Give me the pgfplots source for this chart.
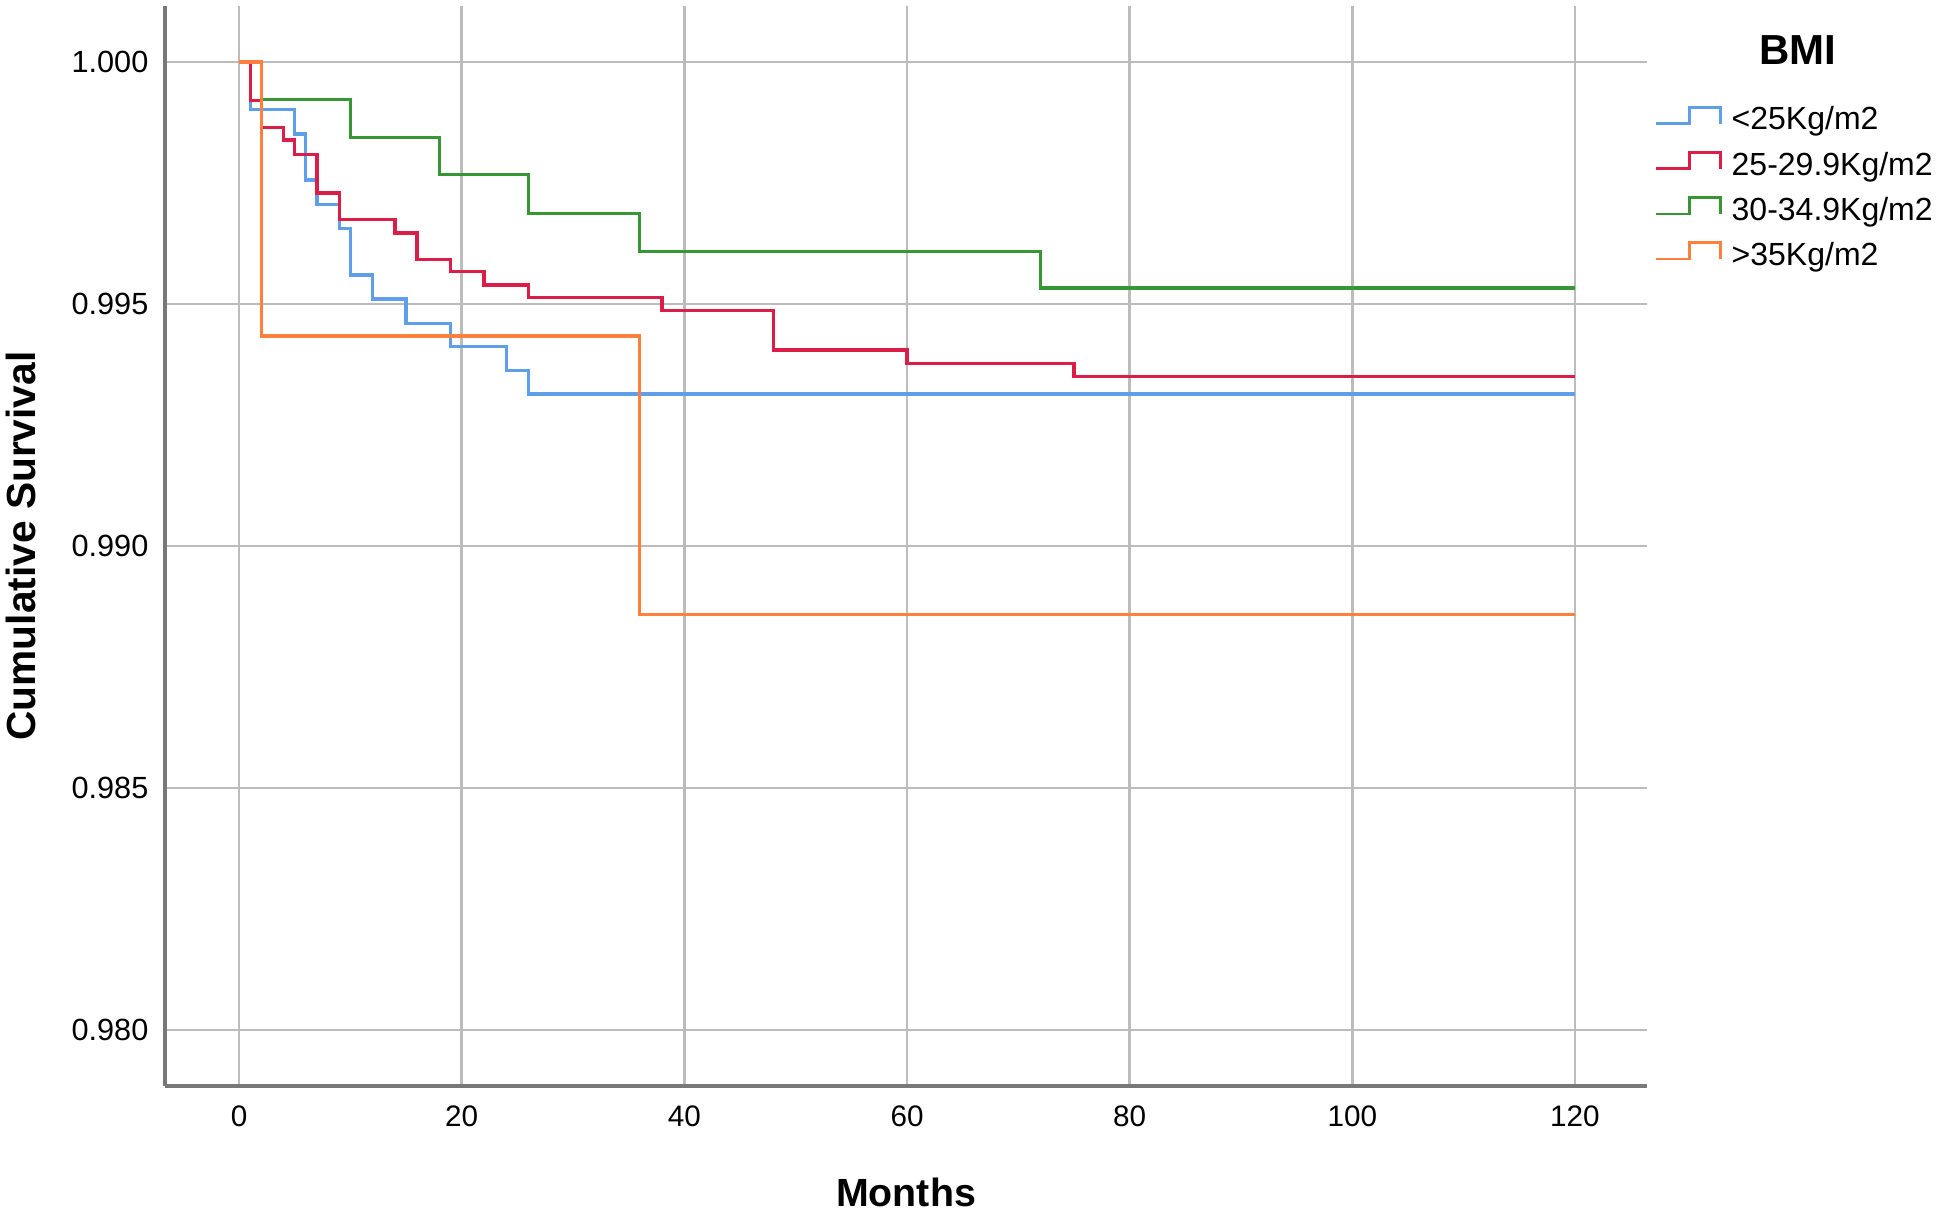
\documentclass[border=0pt]{standalone}
\usepackage{fontspec}
\setmainfont{Liberation Sans}
\usepackage{pgfplots}
\pgfplotsset{compat=1.18}
\definecolor{cBlue}{RGB}{95,158,232}
\definecolor{cRed}{RGB}{218,30,72}
\definecolor{cGreen}{RGB}{56,150,52}
\definecolor{cOrange}{RGB}{255,128,60}
\definecolor{gridgray}{RGB}{188,188,188}
\definecolor{spinegray}{RGB}{120,120,120}
\begin{document}
\begin{tikzpicture}
\useasboundingbox (0,0) rectangle (583.2pt,364.2pt);
\begin{axis}[
  name=ax,
  at={(49.5pt,38.4pt)}, anchor=south west,
  width=444.6pt, height=324pt, scale only axis,
  xmin=-6.65, xmax=126.47, ymin=0.978843, ymax=1.001157,
  axis x line=bottom, axis y line=left,
  axis line style={spinegray, line width=1pt, -},
  xtick={0,20,...,120}, ytick={0.980,0.985,0.990,0.995,1.000},
  scaled y ticks=false,
  grid=major, major grid style={gridgray, line width=0.85pt},
  major tick length=0pt,
  tick style={draw=none},
  /pgf/number format/assume math mode=true,
  y tick label style={/pgf/number format/fixed, /pgf/number format/fixed zerofill, /pgf/number format/precision=3,
     font=\fontsize{9.2}{10}\selectfont, inner sep=0pt, xshift=-4.8pt},
  x tick label style={font=\fontsize{8.9}{10}\selectfont, inner sep=0pt, yshift=-5.7pt},
  every axis y label/.style={at={(axis description cs:-0.0972,0.5)}, rotate=90, anchor=center, font=\bfseries\fontsize{12.2}{14}\selectfont},
  every axis x label/.style={at={(axis description cs:0.5,-0.099)}, anchor=center, font=\bfseries\fontsize{11.8}{14}\selectfont},
  xlabel={Months}, ylabel={Cumulative Survival},
  legend style={at={(axis description cs:1.0054,0.9075)}, anchor=north west, draw=none, fill=none,
     inner sep=0pt, outer sep=0pt, font=\fontsize{9.6}{11}\selectfont, row sep=4.35pt, column sep=3pt,
     nodes={inner sep=0pt, text height=7pt, text depth=2pt}},
  legend cell align=left,
  legend image code/.code={\draw[#1, line width=0.8pt] (0pt,-0.6pt) -- (9.9pt,-0.6pt) -- (9.9pt,4.3pt) -- (19.2pt,4.3pt) -- (19.2pt,-0.6pt);},
]
\addplot[const plot, cBlue, line width=1pt] coordinates {
 (0,1) (1,0.99902) (5,0.99851) (6,0.99756) (7,0.99706) (9,0.99656) (10,0.9956) (12,0.9951) (15,0.9946) (19,0.99412) (24,0.99362) (26,0.99314) (120,0.99314)};
\addlegendentry{<25Kg/m2}
\addplot[const plot, cRed, line width=1pt] coordinates {
 (0,1) (1,0.9992) (2,0.99864) (4,0.99839) (5,0.99809) (7,0.99729) (9,0.99674) (14,0.99647) (16,0.99592) (19,0.99567) (22,0.99539) (26,0.99513) (38,0.99486) (48,0.99405) (60,0.99377) (75,0.9935) (120,0.9935)};
\addlegendentry{25-29.9Kg/m2}
\addplot[const plot, cGreen, line width=1pt] coordinates {
 (0,1) (2,0.99923) (10,0.99844) (18,0.99767) (26,0.99687) (36,0.99608) (72,0.99533) (120,0.99533)};
\addlegendentry{30-34.9Kg/m2}
\addplot[const plot, cOrange, line width=1pt] coordinates {
 (0,1) (2,0.99434) (36,0.98859) (120,0.98859)};
\addlegendentry{>35Kg/m2}
\end{axis}
\node[font=\bfseries\fontsize{12.6}{14}\selectfont, anchor=center] at ([xshift=45.3pt,yshift=-13.2pt]ax.north east) {BMI};
\end{tikzpicture}
\end{document}
